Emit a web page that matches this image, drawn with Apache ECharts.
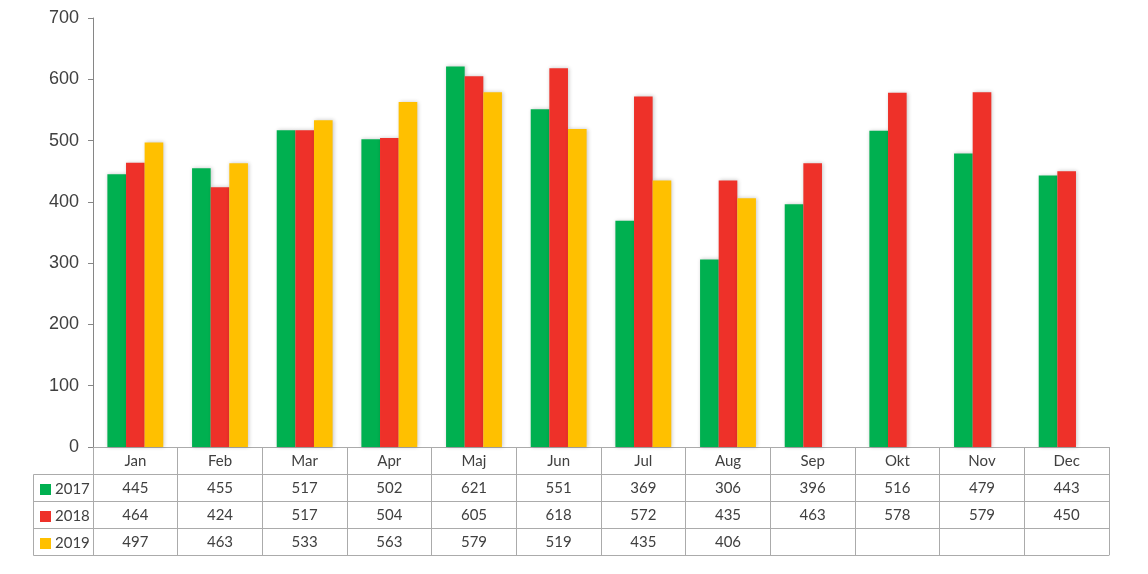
<!DOCTYPE html>
<html><head><meta charset="utf-8">
<script src="https://cdn.jsdelivr.net/npm/echarts@6/dist/echarts.min.js"></script>
<style>html,body{margin:0;padding:0;background:#fff}#c{width:1148px;height:574px}</style>
</head><body><div id="c"></div>
<script>
const months = ['Jan','Feb','Mar','Apr','Maj','Jun','Jul','Aug','Sep','Okt','Nov','Dec'];
const years = ['2017','2018','2019'];
const v2017 = [445,455,517,502,621,551,369,306,396,516,479,443];
const v2018 = [464,424,517,504,605,618,572,435,463,578,579,450];
const v2019 = [497,463,533,563,579,519,435,406,null,null,null,null];
const yTicks = [0,100,200,300,400,500,600,700];
const colors = ['#00B050','#EE3129','#FFC000'];
const values = [v2017, v2018, v2019];

const lineColor = '#ABABAB';
const textColor = '#404040';
const tableFont = 'Lato';
const rowH = 27;

function tableAxis(idx, rowValues, showLabel, showTick) {
  return {
    type: 'category', data: months, gridIndex: 0, position: 'bottom',
    offset: idx * rowH,
    axisLine: {show: true, lineStyle: {color: lineColor, width: 1}},
    axisTick: {show: showTick, length: rowH, lineStyle: {color: lineColor, width: 1}},
    axisLabel: {show: showLabel, margin: 7, color: textColor, fontSize: 15, fontFamily: tableFont,
      formatter: (v, i) => rowValues ? (rowValues[i] == null ? '' : String(rowValues[i])) : v},
    splitLine: {show: false}
  };
}

const chart = echarts.init(document.getElementById('c'));
chart.setOption({
  animation: false,
  backgroundColor: '#fff',
  grid: {left: 93, right: 39, top: 18, bottom: 127, containLabel: false},
  legend: {
    orient: 'vertical', left: 40, top: 482, padding: 0, itemWidth: 11, itemHeight: 11, itemGap: 12,
    icon: 'rect', data: years,
    textStyle: {color: textColor, fontSize: 15, fontFamily: tableFont, padding: [0,0,0,-1]}
  },
  xAxis: [
    tableAxis(0, null, true, true),
    tableAxis(1, v2017, true, true),
    tableAxis(2, v2018, true, true),
    tableAxis(3, v2019, true, true),
    tableAxis(4, null, false, false)
  ],
  yAxis: {
    type: 'value', min: 0, max: 700, interval: 100,
    axisLine: {show: true, lineStyle: {color: '#868686'}},
    axisTick: {show: true, length: 5, lineStyle: {color: '#868686'}},
    axisLabel: {color: textColor, fontSize: 18, fontFamily: 'Liberation Sans', margin: 14,
      formatter: v => yTicks.includes(v) ? String(v) : ''},
    splitLine: {show: false}
  },
  series: years.map((y, k) => ({
    name: y, type: 'bar', xAxisIndex: 0, data: values[k],
    barGap: '0%', barCategoryGap: '34%',
    itemStyle: {color: colors[k], shadowBlur: 4, shadowColor: 'rgba(0,0,0,0.22)', shadowOffsetX: 1, shadowOffsetY: 0}
  })),
  graphic: [
    {type: 'line', shape: {x1: 33.5, y1: 474.5, x2: 93, y2: 474.5}, style: {stroke: lineColor, lineWidth: 1}},
    {type: 'line', shape: {x1: 33.5, y1: 501.5, x2: 93, y2: 501.5}, style: {stroke: lineColor, lineWidth: 1}},
    {type: 'line', shape: {x1: 33.5, y1: 528.5, x2: 93, y2: 528.5}, style: {stroke: lineColor, lineWidth: 1}},
    {type: 'line', shape: {x1: 33.5, y1: 555.5, x2: 93, y2: 555.5}, style: {stroke: lineColor, lineWidth: 1}},
    {type: 'line', shape: {x1: 33.5, y1: 474.5, x2: 33.5, y2: 555.5}, style: {stroke: lineColor, lineWidth: 1}}
  ]
});
</script></body></html>
